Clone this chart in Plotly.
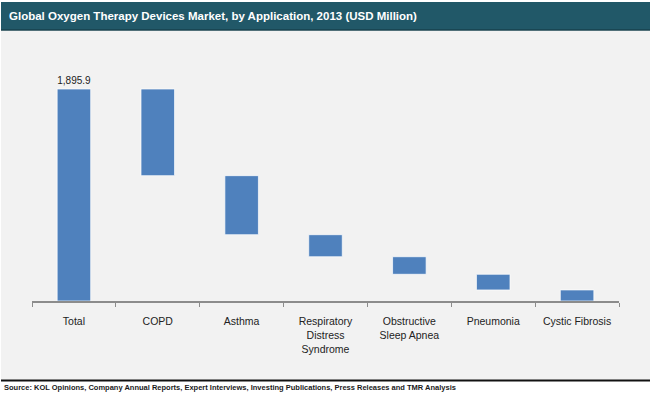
import plotly.graph_objects as go

categories = ["Total", "COPD", "Asthma", "Respiratory Distress Syndrome",
              "Obstructive Sleep Apnea", "Pneumonia", "Cystic Fibrosis"]
tick_labels = ["Total", "COPD", "Asthma", "Respiratory<br>Distress<br>Syndrome",
               "Obstructive<br>Sleep Apnea", "Pneumonia", "Cystic Fibrosis"]
total_value = 1895.9
segment_values = [775.0, 528.0, 197.0, 157.0, 140.0, 98.8]
measures = ["absolute"] + ["relative"] * len(segment_values)
y_values = [total_value] + [-v for v in segment_values]
bar_text = ["1,895.9"] + [""] * len(segment_values)

W, H = 650, 397
L, R, T, B = 32, 31, 50, 96
pw, ph = W - L - R, H - T - B
PX_PER_UNIT = 212 / total_value

def px(x):
    return (x - L) / pw

def py(y):
    return (H - B - y) / ph

FONT = "Liberation Sans, Arial, sans-serif"
BAR = dict(marker=dict(color="#4f81bd", line=dict(color="rgba(255,255,255,0.7)", width=1)))

fig = go.Figure(go.Waterfall(
    x=categories,
    y=y_values,
    measure=measures,
    text=bar_text,
    textposition="outside",
    textfont=dict(family=FONT, size=13, color="#222222"),
    cliponaxis=False,
    connector=dict(visible=False),
    increasing=BAR, decreasing=BAR, totals=BAR,
    hoverinfo="skip",
))

shapes = [
    dict(type="rect", xref="paper", yref="paper", x0=px(1), x1=px(650), y0=py(380), y1=py(31),
         fillcolor="#f2f2f2", line=dict(width=0), layer="below"),
    dict(type="rect", xref="paper", yref="paper", x0=px(1), x1=px(650), y0=py(30), y1=py(2),
         fillcolor="#215868", line=dict(width=0), layer="below"),
    dict(type="line", xref="paper", yref="paper", x0=px(1), x1=px(650), y0=py(30), y1=py(30),
         line=dict(color="#17404c", width=1.5)),
    dict(type="line", xref="paper", yref="paper", x0=px(1), x1=px(650), y0=py(380.5), y1=py(380.5),
         line=dict(color="#111111", width=2)),
]

annotations = [
    dict(text="<b>Global Oxygen Therapy Devices Market, by Application, 2013 (USD Million)</b>",
         xref="paper", yref="paper", x=px(7), y=py(16), xanchor="left", yanchor="middle",
         showarrow=False, font=dict(family=FONT, size=11.5, color="#ffffff")),
    dict(text="<b>Source: KOL Opinions, Company Annual Reports, Expert Interviews, Investing Publications, Press Releases and TMR Analysis</b>",
         xref="paper", yref="paper", x=px(2), y=py(387), xanchor="left", yanchor="middle",
         showarrow=False, font=dict(family=FONT, size=7.5, color="#1a1a1a")),
]

fig.update_layout(
    width=W, height=H,
    margin=dict(l=L, r=R, t=T, b=B, autoexpand=False),
    paper_bgcolor="#ffffff",
    plot_bgcolor="rgba(0,0,0,0)",
    showlegend=False,
    waterfallgap=0.6,
    shapes=shapes,
    annotations=annotations,
    xaxis=dict(
        tickmode="array", tickvals=categories, ticktext=tick_labels,
        tickangle=0, automargin=False,
        tickson="boundaries", ticks="outside", ticklen=4, tickcolor="#8c8c8c",
        ticklabelstandoff=10,
        showline=True, linecolor="#8c8c8c", linewidth=1.5,
        showgrid=False, zeroline=False,
        tickfont=dict(family=FONT, size=10.5, color="#222222"),
        fixedrange=True,
    ),
    yaxis=dict(
        range=[0, ph / PX_PER_UNIT],
        visible=False, showgrid=False, zeroline=False, fixedrange=True,
    ),
)

fig.write_html("out.html", config={"displayModeBar": False},
               post_script="document.body.style.margin='0';document.body.style.overflow='hidden';")
